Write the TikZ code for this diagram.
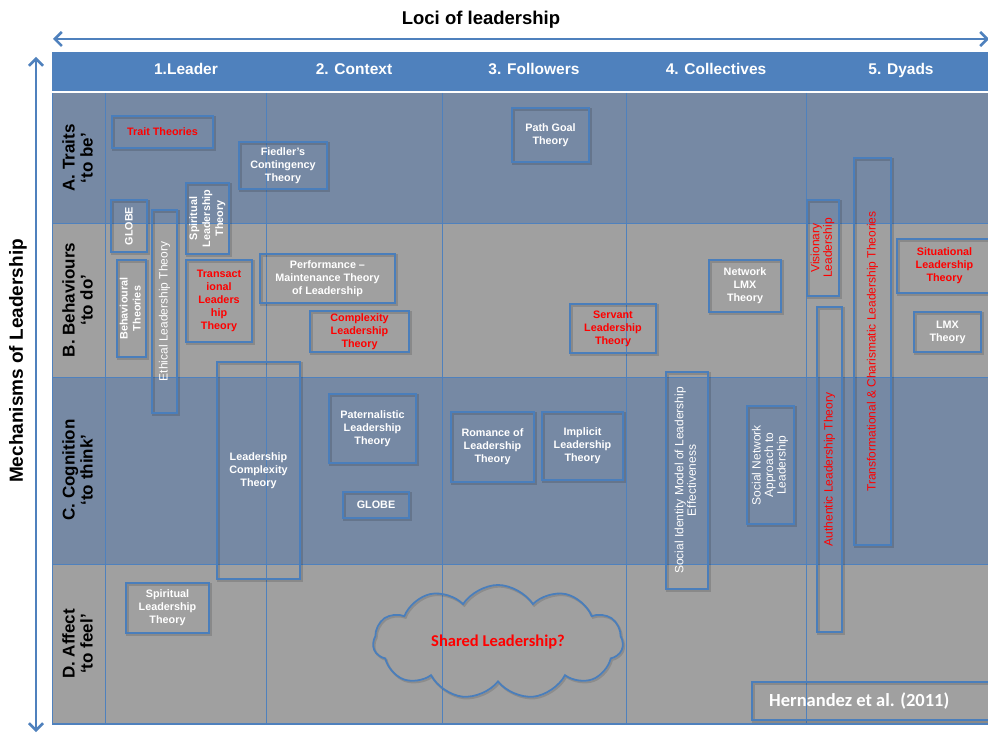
\documentclass[tikz,border=0pt]{standalone}
\usepackage{fontspec}
\usepackage{graphicx}
\setmainfont{Liberation Sans}
\newfontfamily\calib{Carlito}
\usetikzlibrary{arrows.meta,shapes.symbols}
\definecolor{hdr}{HTML}{4F81BD}
\definecolor{rowb}{HTML}{7689A4}
\definecolor{rowg}{HTML}{A0A0A0}
\definecolor{edge}{HTML}{4A7EBB}
\definecolor{txtred}{HTML}{FF0000}
\tikzset{
  box/.style={draw=edge, line width=2.2pt, inner sep=1pt, align=center,
    text=white, font=\bfseries\fontsize{10.8}{13}\selectfont,
    preaction={draw=black, draw opacity=0.14, line width=2.4pt,
      transform canvas={shift={(1.3pt,-1.6pt)}}}},
  rb/.style={text=txtred},
  wr/.style={text=white, font=\fontsize{12}{12.5}\selectfont},
  rr/.style={text=txtred, font=\fontsize{12}{12.5}\selectfont},
  grid/.style={draw=hdr, line width=0.9pt},
  axis/.style={draw=hdr, line width=2.5pt,
    {Straight Barb[length=7pt,width=14pt]}-{Straight Barb[length=7pt,width=14pt]}},
  collab/.style={text=white, font=\bfseries\fontsize{15.5}{17}\selectfont, anchor=base},
  rowlab/.style={text=black, font=\bfseries\fontsize{17}{18}\selectfont, inner sep=0pt},
}
\newcommand\tbox[7][]{%
  \pgfmathsetmacro\bcx{(#3+#5)/2}%
  \pgfmathsetmacro\bcy{(#4+#6)/2}%
  \pgfmathsetmacro\bw{#5-#3}%
  \pgfmathsetmacro\bh{#6-#4}%
  \node[box, minimum width=\bw pt, minimum height=\bh pt, #1] (#2) at (\bcx,\bcy) {#7};}
\newcommand\vlines[1]{\begin{tabular}{@{}c@{}}#1\end{tabular}}
\begin{document}
\begin{tikzpicture}[x=1pt,y=-1pt]
\useasboundingbox (0,0) rectangle (988,733);
\fill[white] (0,0) rectangle (988,733);
% header band and rows
\fill[hdr] (52,52) rectangle (992,91);
\fill[rowb] (52,93) rectangle (992,223);
\fill[rowg] (52,223) rectangle (992,377);
\fill[rowb] (52,377) rectangle (992,564);
\fill[rowg] (52,564) rectangle (992,724);
% grid
\foreach \yy in {223,377,564} \draw[grid] (52,\yy) -- (992,\yy);
\foreach \xx in {52,105,266,442,626,806} \draw[grid] (\xx,93) -- (\xx,724);
\draw[draw=hdr, line width=1.8pt] (52,724) -- (992,724);
% axes
\coordinate (hl) at (53,39);
\coordinate (hr) at (989,39);
\coordinate (vt) at (36,57);
\coordinate (vb) at (36,732);
\draw[axis] (hl) -- (hr);
\draw[axis] (vt) -- (vb);
\node[font=\bfseries\fontsize{18.5}{20}\selectfont] (title) at (481,20) {Loci of leadership};
\node[font=\bfseries\fontsize{19}{20}\selectfont, rotate=90] (mech) at (18,361) {Mechanisms of Leadership};
% column labels
\node[collab] (c1) at (186,75) {1.Leader};
\node[collab] (c2) at (354,75) {2. Context};
\node[collab] (c3) at (534,75) {3. Followers};
\node[collab] (c4) at (716,75) {4. Collectives};
\node[collab] (c5) at (901,75) {5. Dyads};
% row labels
\node[rowlab] (ra) at (80,158) {\rotatebox{90}{\vlines{A. Traits\\‘to be’}}};
\node[rowlab] (rbl) at (80,300) {\rotatebox{90}{\vlines{B. Behaviours\\‘to do’}}};
\node[rowlab] (rc) at (80,470) {\rotatebox{90}{\vlines{C. Cognition\\‘to think’}}};
\node[rowlab] (rd) at (80,644) {\rotatebox{90}{\vlines{D. Affect\\‘to feel’}}};
% theory boxes
\tbox[rb]{trait}{112}{116}{213}{148}{Trait Theories}
\tbox{fiedler}{239}{142}{327}{189}{Fiedler’s\\Contingency\\Theory}
\tbox{globeA}{111}{200}{147}{252}{\rotatebox{90}{GLOBE}}
\tbox[wr]{ethical}{152}{210}{177}{413}{\rotatebox{90}{Ethical Leadership Theory}}
\tbox{spiritA}{186}{183}{229}{254}{\rotatebox{90}{\vlines{Spiritual\\Leadership\\Theory}}}
\tbox{behav}{117}{260}{146}{357}{\rotatebox{90}{\vlines{Behavioural\\Theories}}}
\tbox[rb]{transact}{186}{260}{252}{342}{Transact\\ional\\Leaders\\hip\\Theory}
\tbox{perf}{260}{254}{395}{303}{Performance –\\Maintenance Theory\\of Leadership}
\tbox[rb]{complex}{310}{311}{409}{352}{Complexity\\Leadership\\Theory}
\tbox{lct}{217}{362}{300}{579}{Leadership\\Complexity\\Theory}
\tbox{patern}{329}{394}{416}{463}{Paternalistic\\Leadership\\Theory}
\tbox{globeC}{343}{492}{409}{518}{GLOBE}
\tbox{romance}{451}{412}{534}{482}{Romance of\\Leadership\\Theory}
\tbox{implicit}{542}{412}{623}{480}{Implicit\\Leadership\\Theory}
\tbox{path}{512}{108}{589}{162}{Path Goal\\Theory}
\tbox[rb]{servant}{570}{304}{656}{353}{Servant\\Leadership\\Theory}
\tbox{netlmx}{709}{260}{781}{312}{Network\\LMX\\Theory}
\tbox[rr]{vision}{807}{200}{839}{296}{\rotatebox{90}{\vlines{Visionary\\Leadership}}}
\tbox[rr]{transf}{854}{158}{891}{545}{\rotatebox{90}{Transformational \& Charismatic Leadership Theories}}
\tbox[rb]{situ}{897}{239}{992}{293}{Situational\\Leadership\\Theory}
\tbox{lmx}{914}{312}{981}{352}{LMX\\Theory}
\tbox[rr]{auth}{817}{307}{842}{632}{\rotatebox{90}{Authentic Leadership Theory}}
\tbox[wr]{sim}{666}{372}{708}{589}{\rotatebox{90}{\vlines{Social Identity Model of Leadership\\Effectiveness}}}
\tbox[wr]{sna}{747}{406}{794}{524}{\rotatebox{90}{\vlines{Social Network\\Approach to\\Leadership}}}
\tbox{spiritD}{126}{583}{209}{633}{Spiritual\\Leadership\\Theory}
% cloud
\node[cloud, cloud puffs=11, cloud puff arc=115, aspect=2.2, draw=edge, line width=1.8pt,
  minimum width=250pt, minimum height=114pt, inner sep=0pt,
  preaction={draw=black, draw opacity=0.12, line width=2pt, transform canvas={shift={(1.3pt,-1.6pt)}}},
  text=txtred, font=\calib\bfseries\fontsize{16.5}{18}\selectfont] (cloud) at (498,642) {Shared Leadership?};
% citation
\tbox{hern}{752}{682}{1002}{720}{}
\node[anchor=west, inner sep=0pt, text=white, font=\calib\bfseries\fontsize{18.5}{20}\selectfont] (herntext) at (769,701) {Hernandez et al. (2011)};
\end{tikzpicture}
\end{document}
